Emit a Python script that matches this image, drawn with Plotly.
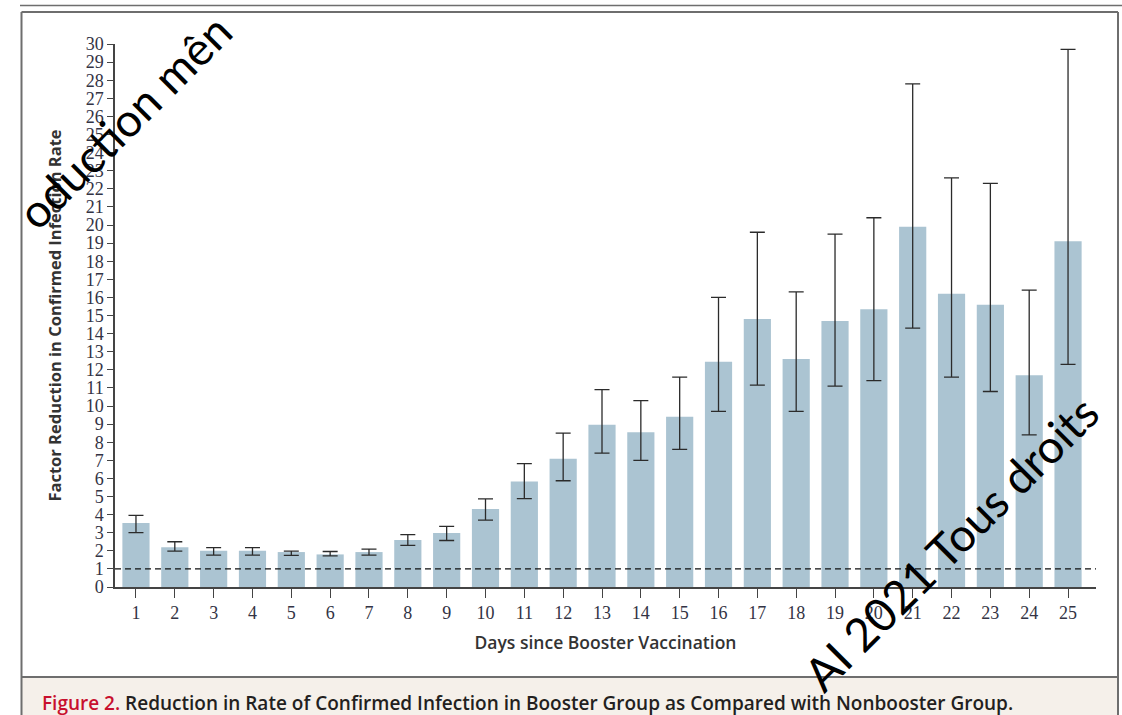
import plotly.graph_objects as go

days = list(range(1, 26))
factor = [3.53, 2.2, 2.0, 2.0, 1.93, 1.8, 1.93, 2.6, 2.98, 4.31, 5.83, 7.08,
          8.97, 8.55, 9.4, 12.45, 14.8, 12.6, 14.7, 15.35, 19.9, 16.2, 15.6, 11.7, 19.1]
ci_upper = [3.96, 2.5, 2.17, 2.17, 1.98, 1.96, 2.09, 2.89, 3.35, 4.87, 6.82, 8.5,
            10.9, 10.3, 11.6, 16.0, 19.6, 16.3, 19.5, 20.4, 27.8, 22.6, 22.3, 16.4, 29.7]
ci_lower = [3.0, 1.98, 1.76, 1.76, 1.75, 1.72, 1.76, 2.3, 2.57, 3.7, 4.88, 5.87,
            7.4, 7.0, 7.6, 9.7, 11.15, 9.7, 11.1, 11.4, 14.3, 11.6, 10.8, 8.4, 12.3]
y_ticks = list(range(0, 31))
reference_level = 1

W, H = 1122, 715
L, R, T, B = 115, 1096, 44, 587


def px(x):
    return (x - L) / (R - L)


def py(y):
    return (B - y) / (B - T)


err_plus = [u - v for u, v in zip(ci_upper, factor)]
err_minus = [v - l for v, l in zip(factor, ci_lower)]

fig = go.Figure()
fig.add_trace(go.Bar(
    x=days, y=factor, width=0.7,
    marker=dict(color="#abc4d2", line=dict(width=0)),
    error_y=dict(type="data", symmetric=False, array=err_plus, arrayminus=err_minus,
                 color="#2b2b2b", thickness=1.3, width=7.5),
    hoverinfo="x+y",
))

# reference dashed line at factor 1
fig.add_shape(type="line", xref="paper", yref="y", x0=0, x1=1,
              y0=reference_level, y1=reference_level,
              line=dict(color="#111111", width=1.3, dash="6px,4px"))

# frame lines
frame_col = "#6e6e6e"
shapes = [
    dict(x0=px(20), x1=px(1122), y0=py(5.5), y1=py(5.5), w=1.5),
    dict(x0=px(21.5), x1=px(1118), y0=py(12), y1=py(12), w=2),
    dict(x0=px(21.5), x1=px(21.5), y0=py(12), y1=py(715), w=2),
    dict(x0=px(1118), x1=px(1118), y0=py(12), y1=py(715), w=2),
]
fig.add_shape(type="rect", xref="paper", yref="paper", x0=px(21.5), x1=px(1118),
              y0=py(677), y1=py(716), fillcolor="#f5f0ea", line=dict(width=0), layer="below")
fig.add_shape(type="line", xref="paper", yref="paper", x0=px(21.5), x1=px(1118),
              y0=py(677), y1=py(677), line=dict(color=frame_col, width=2))
for s in shapes:
    fig.add_shape(type="line", xref="paper", yref="paper", x0=s["x0"], x1=s["x1"],
                  y0=s["y0"], y1=s["y1"], line=dict(color=frame_col, width=s["w"]))

# caption
fig.add_annotation(
    xref="paper", yref="paper", x=px(40), y=py(703), xanchor="left", yanchor="middle",
    text="<span style='color:#c8102e'>Figure 2.</span> Reduction in Rate of Confirmed Infection in Booster Group as Compared with Nonbooster Group.",
    showarrow=False, font=dict(family="Open Sans", size=19, color="#231f20", weight=600),
)

# watermarks
fig.add_annotation(
    xref="paper", yref="paper", x=px(124), y=py(122), xanchor="center", yanchor="middle",
    text="oduction mên", textangle=-45, showarrow=False,
    font=dict(family="Lato", size=46, color="#000000"),
)
fig.add_annotation(
    xref="paper", yref="paper", x=px(950), y=py(543), xanchor="center", yanchor="middle",
    text="AI 2021 Tous droits", textangle=-45, showarrow=False,
    font=dict(family="Lato", size=46, color="#000000"),
)

fig.update_layout(
    width=W, height=H,
    margin=dict(l=L, r=W - R, t=T, b=H - B),
    paper_bgcolor="white", plot_bgcolor="white",
    showlegend=False, bargap=0.3,
    font=dict(family="Liberation Serif", color="#333333"),
    xaxis=dict(
        range=[0.46, 25.72], tickmode="array", tickvals=days,
        ticktext=[str(d) for d in days],
        ticks="outside", ticklen=9, tickwidth=1.3, tickcolor="#444444",
        showline=True, linecolor="#444444", linewidth=1.5, showgrid=False, zeroline=False,
        tickfont=dict(family="Liberation Serif", size=18, color="#333344"),
        title=dict(text="Days since Booster Vaccination", standoff=14,
                   font=dict(family="Open Sans", size=17.5, color="#333333", weight=600)),
    ),
    yaxis=dict(
        range=[0, 30], tickmode="array", tickvals=y_ticks,
        ticktext=[str(v) for v in y_ticks],
        ticks="outside", ticklen=6, tickwidth=1.3, tickcolor="#444444",
        showline=True, linecolor="#444444", linewidth=1.5, showgrid=False, zeroline=False,
        tickfont=dict(family="Liberation Serif", size=18, color="#333344"),
        title=dict(text="Factor Reduction in Confirmed Infection Rate", standoff=20,
                   font=dict(family="Open Sans", size=16.5, color="#333333", weight=700)),
    ),
)

fig.write_html("out.html")
